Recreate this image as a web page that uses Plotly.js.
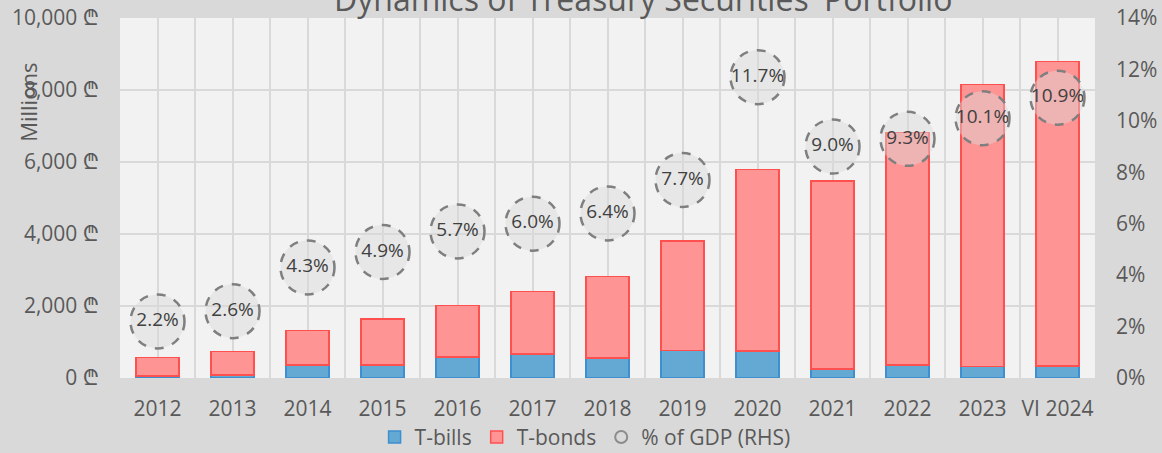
<!DOCTYPE html>
<html>
<head>
<meta charset="utf-8">
<script src="https://cdn.plot.ly/plotly-3.0.1.min.js"></script>
<style>html,body{margin:0;padding:0;background:#d9d9d9;}#chart{width:1162px;height:453px;}</style>
</head>
<body>
<div id="chart"></div>
<script>
const categories = ['2012','2013','2014','2015','2016','2017','2018','2019','2020','2021','2022','2023','VI 2024'];
const tBills = [55, 90, 360, 360, 590, 670, 555, 760, 750, 250, 360, 315, 335];
const tBonds = [510, 640, 955, 1280, 1430, 1735, 2270, 3045, 5045, 5220, 6455, 7835, 8460];
const gdpPct = [2.2, 2.6, 4.3, 4.9, 5.7, 6.0, 6.4, 7.7, 11.7, 9.0, 9.3, 10.1, 10.9];

const FONT = '"Open Sans", "Noto Sans", "DejaVu Sans", sans-serif';
const TXT = '#595959';
const GRID = '#d9d9d9';
const xIdx = categories.map((c, i) => i);
const minorVals = categories.map((c, i) => i - 0.5).concat([categories.length - 0.5]);

const traces = [
  {type: 'bar', name: 'T-bills', x: xIdx, y: tBills, width: 0.57,
   marker: {color: '#63a9d4', line: {color: '#3d8fcf', width: 1.5}}, hoverinfo: 'skip'},
  {type: 'bar', name: 'T-bonds', x: xIdx, y: tBonds, width: 0.57,
   marker: {color: '#ff9494', line: {color: '#ff5050', width: 1.5}}, hoverinfo: 'skip'},
  {type: 'scatter', mode: 'markers+text', name: '% of GDP (RHS)', showlegend: false,
   x: xIdx, y: gdpPct, yaxis: 'y2',
   text: gdpPct.map(v => v.toFixed(1) + '%'), textposition: 'middle center',
   textfont: {family: FONT, size: 19, color: '#404040'},
   marker: {size: 54, color: 'rgba(217,217,217,0.45)', line: {width: 0}}, hoverinfo: 'skip'},
  {type: 'scatter', mode: 'markers', name: '% of GDP (RHS)', x: [null], y: [null], yaxis: 'y2',
   marker: {symbol: 'circle-open', size: 12, color: '#8c8c8c', line: {width: 2, color: '#8c8c8c'}}}
];

const shapes = gdpPct.map((v, i) => ({
  type: 'circle', xref: 'x', yref: 'y2', xsizemode: 'pixel', ysizemode: 'pixel',
  xanchor: xIdx[i], yanchor: v, x0: -27, x1: 27, y0: -27, y1: 27,
  line: {color: '#7f7f7f', width: 2.5, dash: 'dash'}, fillcolor: 'rgba(0,0,0,0)', layer: 'above'
}));

const layout = {
  width: 1162, height: 453,
  paper_bgcolor: '#d9d9d9', plot_bgcolor: '#f2f2f2',
  margin: {l: 120, r: 67, t: 18, b: 75, pad: 0, autoexpand: false},
  barmode: 'stack',
  font: {family: FONT, color: TXT, size: 21},
  showlegend: true,
  legend: {orientation: 'h', x: 0.477, xanchor: 'center', y: -0.165, yanchor: 'middle',
           font: {family: FONT, size: 21, color: TXT}, bgcolor: 'rgba(0,0,0,0)', traceorder: 'normal'},
  xaxis: {range: [-0.5, categories.length - 0.5], tickmode: 'array', tickvals: xIdx, ticktext: categories,
          showgrid: true, gridcolor: GRID, gridwidth: 2, zeroline: false, showline: false, ticks: '',
          ticklabelstandoff: 16, tickfont: {size: 21, color: TXT}, automargin: false,
          minor: {tickmode: 'array', tickvals: minorVals, showgrid: true, gridcolor: GRID, gridwidth: 2, ticks: ''}},
  yaxis: {range: [0, 10000], dtick: 2000, tickformat: ',.0f', ticksuffix: ' ₾', automargin: false,
          showgrid: true, gridcolor: GRID, gridwidth: 2, zeroline: false, showline: false, ticks: '',
          ticklabelstandoff: 20, tickfont: {size: 21, color: TXT}},
  yaxis2: {range: [0, 14], dtick: 2, ticksuffix: '%', overlaying: 'y', side: 'right', automargin: false,
           showgrid: false, zeroline: false, showline: false, ticks: '',
           ticklabelstandoff: 20, tickfont: {size: 21, color: TXT}},
  shapes: shapes,
  annotations: [
    {text: "Dynamics of Treasury Securities' Portfolio", xref: 'paper', yref: 'paper',
     x: 0.536, y: 1.054, xanchor: 'center', yanchor: 'middle', showarrow: false,
     font: {family: FONT, size: 32, color: TXT}},
    {text: 'Millions', xref: 'paper', yref: 'paper', x: -0.0944, y: 0.767,
     xanchor: 'center', yanchor: 'middle', textangle: -90, showarrow: false,
     font: {family: FONT, size: 22, color: TXT}}
  ]
};

Plotly.newPlot('chart', traces, layout, {staticPlot: true, displayModeBar: false});
</script>
</body>
</html>
